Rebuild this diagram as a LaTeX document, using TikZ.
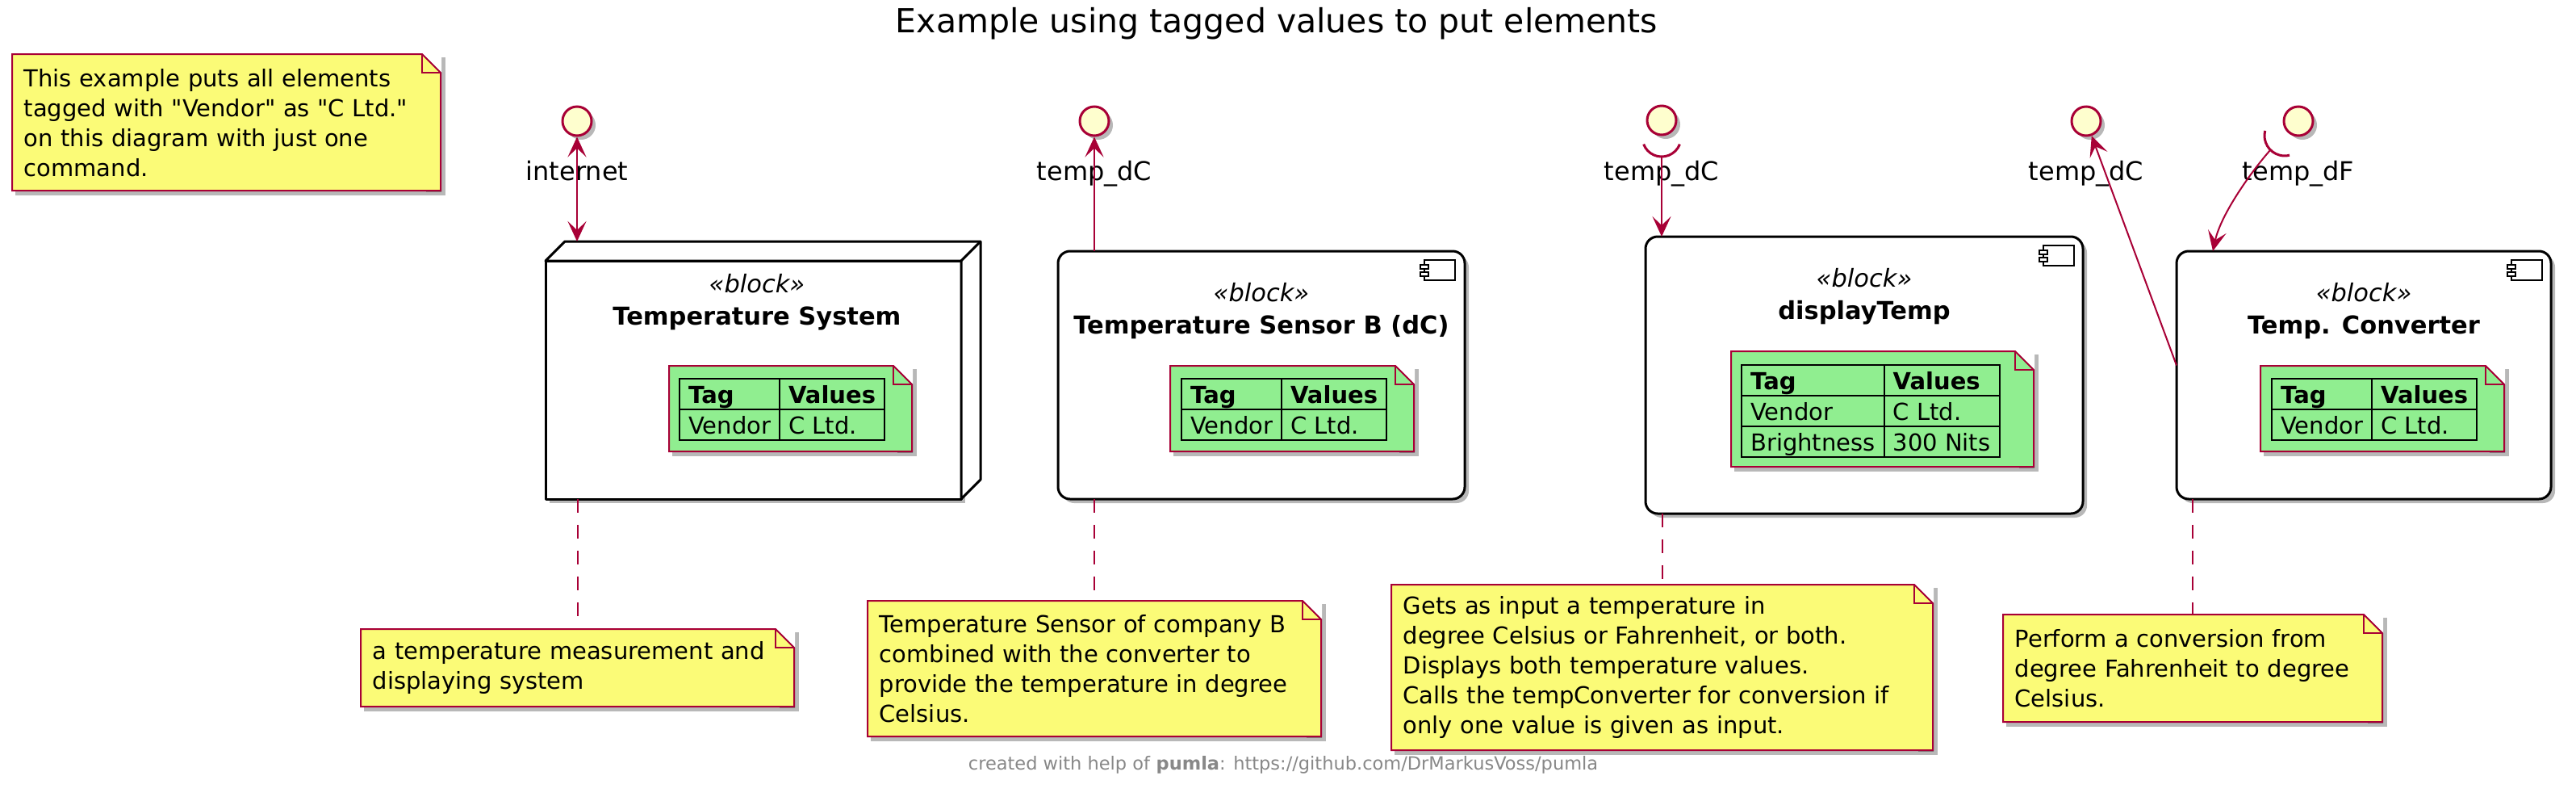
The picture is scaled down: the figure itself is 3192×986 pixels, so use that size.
\documentclass[tikz,border=0pt]{standalone}
\usepackage{fontspec}
\setmainfont{DejaVu Sans}
\usepackage{array}
\usepackage{xcolor}
\usepackage{tikz}
\usetikzlibrary{arrows.meta,positioning,shadows}

\definecolor{umlred}{HTML}{A80036}
\definecolor{ifacefill}{HTML}{FEFECE}
\definecolor{noteyellow}{HTML}{FBFB77}
\definecolor{taggreen}{HTML}{90EE90}
\definecolor{footgray}{HTML}{888888}

\setlength{\arrayrulewidth}{2pt}
\setlength{\tabcolsep}{10pt}
\renewcommand{\arraystretch}{0.6}
\newcolumntype{R}{>{\rule[-6pt]{0pt}{35.5pt}}l}
\newcommand{\stereo}{\textit{«block»}}
\newcommand{\qq}[1]{\textquotedbl#1\textquotedbl}

\tikzset{
  dropshade/.style={drop shadow={shadow xshift=5pt, shadow yshift=-5pt, fill=black, opacity=.28}},
  dogear/.style={rectangle, dropshade, path picture={
      \fill[white] ([xshift=-24pt]path picture bounding box.north east)
        -- (path picture bounding box.north east)
        -- ([yshift=-24pt]path picture bounding box.north east) -- cycle;
      \fill[black, opacity=.28] ([shift={(-19pt,-5pt)}]path picture bounding box.north east)
        -- ([shift={(5pt,-29pt)}]path picture bounding box.north east)
        -- ([shift={(5pt,-5pt)}]path picture bounding box.south east)
        -- ([shift={(-19pt,-5pt)}]path picture bounding box.south east) -- cycle;
      \filldraw[draw=umlred, fill=#1, line width=2pt]
        ([shift={(1pt,-1pt)}]path picture bounding box.north west)
        -- ([shift={(-24pt,-1pt)}]path picture bounding box.north east)
        -- ([shift={(-1pt,-24pt)}]path picture bounding box.north east)
        -- ([shift={(-1pt,1pt)}]path picture bounding box.south east)
        -- ([shift={(1pt,1pt)}]path picture bounding box.south west) -- cycle;
      \draw[umlred, line width=2pt]
        ([shift={(-24pt,-1pt)}]path picture bounding box.north east)
        |- ([shift={(-1pt,-24pt)}]path picture bounding box.north east);}},
  notebox/.style={dogear=noteyellow, anchor=north west, align=left, inner xsep=15.5pt,
    font=\fontsize{29}{37}\selectfont},
  tagnote/.style={dogear=taggreen, anchor=north west},
  tagtable/.style={anchor=north west, inner sep=0pt, font=\fontsize{29}{35}\selectfont},
  blockbox/.style={rectangle, rounded corners=15pt, draw=black, fill=white, line width=3pt,
    outer sep=0pt, dropshade},
  nodebox/.style={rectangle, draw=black, fill=white, line width=3pt, line join=round,
    outer sep=0pt, dropshade},
  nodeside/.style={draw=black, fill=white, line width=3pt, line join=round},
  blockhead/.style={anchor=north, align=center, inner sep=0pt, font=\fontsize{30.5}{40}\selectfont},
  iface/.style={circle, minimum size=36pt, inner sep=0pt, draw=umlred, fill=ifacefill,
    line width=3pt, dropshade},
  ifacename/.style={anchor=base, inner sep=0pt, font=\fontsize{32}{38}\selectfont},
  link/.style={umlred, line width=2pt},
  conn/.style={link, -{Stealth[length=25pt, width=23pt, inset=11pt]}},
  biconn/.style={link, {Stealth[length=25pt, width=23pt, inset=11pt]}-{Stealth[length=25pt, width=23pt, inset=11pt]}},
  noteline/.style={link, dash pattern=on 17pt off 15pt},
  socket/.style={umlred, line width=3pt},
  compicon/.pic={
    \draw[line width=2.5pt, fill=white] (-38,0) rectangle (0,25);
    \draw[line width=2pt, fill=white] (-43,6) rectangle (-33,11) (-43,15) rectangle (-33,20);}
}

\begin{document}
\begin{tikzpicture}[x=1pt, y=-1pt]
  \path[use as bounding box, fill=white] (0,0) rectangle (3192,986);

  \node[font=\fontsize{41}{48}\selectfont, anchor=base] (title) at (1582,40)
    {Example using tagged values to put elements};

  % blocks
  \node[nodebox, minimum width=515pt, minimum height=295pt,
    label={[blockhead, xshift=4.5pt, yshift=-16pt]north:{\stereo\\\textbf{Temperature System}}}]
    (tsys) at (933.5,470.5) {};
  \filldraw[nodeside] (tsys.north west) -- ++(24,-24) -- ([shift={(24pt,24pt)}]tsys.north east)
    -- ([shift={(24pt,24pt)}]tsys.south east) -- (tsys.south east) -- (tsys.north east) -- cycle;
  \draw[nodeside] (tsys.north east) -- ++(24,-24);

  \node[blockbox, minimum width=504pt, minimum height=307pt,
    label={[blockhead, yshift=-39pt]north:{\stereo\\\textbf{Temperature Sensor B (dC)}}}]
    (sensor) at (1563,464.5) {};
  \node[blockbox, minimum width=542pt, minimum height=343pt,
    label={[blockhead, yshift=-39pt]north:{\stereo\\\textbf{displayTemp}}}]
    (disp) at (2310,464.5) {};
  \node[blockbox, minimum width=464pt, minimum height=307pt,
    label={[blockhead, yshift=-39pt]north:{\stereo\\\textbf{Temp. Converter}}}]
    (conv) at (2929,464.5) {};
  \pic at ([shift={(-12pt,-11pt)}]sensor.north east) {compicon};
  \pic at ([shift={(-11pt,-11pt)}]disp.north east) {compicon};
  \pic at ([shift={(-11pt,-11pt)}]conv.north east) {compicon};

  % tagged values
  \node[tagnote, minimum width=303pt, minimum height=108pt] (tsTag) at (828,452) {};
  \node[tagtable] (tsTable) at (841,468)
    {\begin{tabular}{|R|l|}\hline \textbf{Tag} & \textbf{Values}\\\hline Vendor & C Ltd.\\\hline\end{tabular}};
  \node[tagnote, minimum width=304pt, minimum height=108pt] (sensorTag) at (1449,452) {};
  \node[tagtable] (sensorTable) at (1463,468)
    {\begin{tabular}{|R|l|}\hline \textbf{Tag} & \textbf{Values}\\\hline Vendor & C Ltd.\\\hline\end{tabular}};
  \node[tagnote, minimum width=377pt, minimum height=145pt] (dispTag) at (2144,434) {};
  \node[tagtable] (dispTable) at (2157,451)
    {\begin{tabular}{|R|l|}\hline \textbf{Tag} & \textbf{Values}\\\hline Vendor & C Ltd.\\\hline
     Brightness & 300 Nits\\\hline\end{tabular}};
  \node[tagnote, minimum width=304pt, minimum height=108pt] (convTag) at (2800,452) {};
  \node[tagtable] (convTable) at (2814,468)
    {\begin{tabular}{|R|l|}\hline \textbf{Tag} & \textbf{Values}\\\hline Vendor & C Ltd.\\\hline\end{tabular}};

  % interfaces
  \node[iface] (ifInternet) at (715,150) {};
  \node[iface] (ifSensorC) at (1356,150) {};
  \node[iface] (ifDispC) at (2059,149) {};
  \node[iface] (ifConvC) at (2585,150) {};
  \node[iface] (ifConvF) at (2848,150) {};
  \node[ifacename] (lblInternet) at (715,223) {internet};
  \node[ifacename] (lblSensorC) at (1356,223) {temp\_dC};
  \node[ifacename] (lblDispC) at (2059,223) {temp\_dC};
  \node[ifacename] (lblConvC) at (2585,223) {temp\_dC};
  \node[ifacename] (lblConvF) at (2848,223) {temp\_dF};

  \draw[socket] (2036.6,178.6) arc[start angle=201, end angle=339, radius=24pt];
  \draw[socket] (2806.7,161.9) arc[start angle=166, end angle=284, radius=25pt];
  \coordinate (sockDisp) at (2059,194);
  \coordinate (sockConvF) at (2813,186);

  \draw[biconn] (ifInternet) -- ([shift={(39pt,24pt)}]tsys.north west);
  \draw[conn] ([xshift=45pt]sensor.north west) -- (ifSensorC);
  \draw[conn] (sockDisp) -- ([xshift=20pt]disp.north west);
  \draw[conn] ([yshift=12pt]conv.west) -- (ifConvC);
  \draw[conn] (sockConvF) .. controls (2790,212) and (2752,265) .. ([xshift=45pt]conv.north west);

  % notes
  \node[notebox, minimum width=533pt, minimum height=171pt, text width=502pt] (legend) at (14,66)
    {This example puts all elements\\tagged with \qq{Vendor} as \qq{C Ltd.}\\on this diagram with just one\\command.};
  \node[notebox, minimum width=539pt, minimum height=98pt, text width=508pt] (tsNote) at (446,778)
    {a temperature measurement and\\displaying system};
  \node[notebox, minimum width=564pt, minimum height=170pt, text width=533pt] (sensorNote) at (1074,743)
    {Temperature Sensor of company B\\combined with the converter to\\provide the temperature in degree\\Celsius.};
  \node[notebox, minimum width=673pt, minimum height=207pt, text width=642pt] (dispNote) at (1723,723)
    {Gets as input a temperature in\\degree Celsius or Fahrenheit, or both.\\Displays both temperature values.\\Calls the tempConverter for conversion if\\only one value is given as input.};
  \node[notebox, minimum width=472pt, minimum height=135pt, text width=441pt] (convNote) at (2481,760)
    {Perform a conversion from\\degree Fahrenheit to degree\\Celsius.};

  \draw[noteline] (tsys.south -| tsNote.north) -- (tsNote.north);
  \draw[noteline] (sensor.south -| sensorNote.north) -- (sensorNote.north);
  \draw[noteline] (disp.south -| dispNote.north) -- (dispNote.north);
  \draw[noteline] (conv.south -| convNote.north) -- (convNote.north);

  \node[font=\fontsize{22.5}{27}\selectfont, text=footgray, anchor=base] (footer) at (1590,953)
    {created with help of \textbf{pumla}: https://github.com/DrMarkusVoss/pumla};
\end{tikzpicture}
\end{document}
